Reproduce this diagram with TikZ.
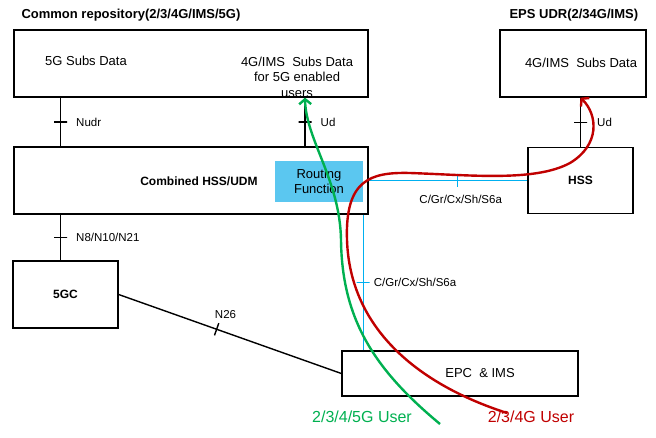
\documentclass[tikz,border=0pt]{standalone}
\usepackage{fontspec}
\setmainfont{Liberation Sans}
\usetikzlibrary{positioning}
\usetikzlibrary{arrows.meta}

\definecolor{verdeU}{RGB}{0,176,80}
\definecolor{rossoU}{RGB}{192,0,0}
\definecolor{cianoL}{RGB}{0,176,240}
\definecolor{cianoF}{RGB}{91,199,240}

\begin{document}
\begin{tikzpicture}[x=1pt,y=-1pt,inner sep=0pt,align=center,
blocco/.style={draw,line width=1.3pt},
testo/.style={font=\fontsize{13}{15.5}\selectfont},
grassetto/.style={font=\fontsize{12}{14}\selectfont\bfseries},
titolo/.style={font=\fontsize{13}{15}\selectfont\bfseries,anchor=south west},
etich/.style={font=\fontsize{11.5}{13}\selectfont},
linea/.style={line width=1.4pt},
lineaC/.style={line width=1.2pt,draw=cianoL},
tacca/.style={draw,sloped,line width=1.4pt,minimum width=0pt,minimum height=13pt},
taccaC/.style={tacca,draw=cianoL,line width=1.2pt},
routing/.style={fill=cianoF,minimum width=88pt,minimum height=41pt},
utente/.style={line width=2.4pt,-{Straight Barb[length=5pt,width=12pt]}},
etichU/.style={font=\fontsize{16}{18}\selectfont}
]
\useasboundingbox (0,0) rectangle (656,438);
%-- blocchi
\node[blocco,minimum width=354pt,minimum height=67pt] (repo) at (191,63.5) {};
\node[blocco,minimum width=146pt,minimum height=67pt] (udr) at (573,63.5) {};
\node[blocco,minimum width=354pt,minimum height=67pt] (combinato) at (191,180.5) {};
\node[blocco,minimum width=105pt,minimum height=66pt] (hss) at (580.5,180.5) {};
\node[blocco,minimum width=105pt,minimum height=67pt] (cinqueGC) at (65.5,294.5) {};
\node[blocco,minimum width=236pt,minimum height=45pt] (epc) at (460,373.5) {};
\node[routing] (rf) at (319,181.5) {};
%-- titoli e testi
\node[titolo,above right=8pt and 8pt of repo.north west] (titRepo) {Common repository(2/3/4G/IMS/5G)};
\node[titolo,above right=8pt and 10pt of udr.north west] (titUdr) {EPS UDR(2/34G/IMS)};
\node[testo] (dati5G) at (86,61) {5G Subs Data};
\node[testo] (dati4G) at (297,77) {4G/IMS\ \ Subs Data\\for 5G enabled\\users};
\node[testo] (datiUdr) at (581,63) {4G/IMS\ \ Subs Data};
\node[grassetto] (txtComb) at (199,181) {Combined HSS/UDM};
\node[testo] (txtRf) at (rf) {Routing\\Function};
\node[grassetto] (txtHss) at (hss) {HSS};
\node[grassetto] (txt5GC) at (cinqueGC) {5GC};
\node[testo] (txtEpc) at (480,373) {EPC\ \ \& IMS};
%-- interfacce
\coordinate (pNudr) at (60.5,0);
\coordinate (pUd) at (305,0);
\coordinate (pUdR) at (580.5,0);
\draw[linea] (repo.south -| pNudr) -- node[tacca]{} node[etich,right=15pt]{Nudr} (combinato.north -| pNudr);
\draw[linea] (repo.south -| pUd) -- node[tacca]{} node[etich,right=15pt]{Ud} (combinato.north -| pUd);
\draw[linea] (udr.south -| pUdR) -- node[tacca]{} node[etich,right=16pt]{Ud} (hss.north -| pUdR);
\draw[linea] (combinato.south -| pNudr) -- node[tacca]{} node[etich,right=15pt]{N8/N10/N21} (cinqueGC.north -| pNudr);
\draw[linea] (cinqueGC.east) -- node[tacca,pos=.44]{} node[etich,pos=.48,above=13pt]{N26} (epc.west);
\draw[lineaC] (combinato.east) -- node[taccaC,pos=.56]{} node[etich,pos=.58,below=14pt]{C/Gr/Cx/Sh/S6a} (hss.west);
\draw[lineaC] (combinato.south -| rf.east) -- node[taccaC]{} node[etich,right=10pt]{C/Gr/Cx/Sh/S6a} (epc.north -| rf.east);
%-- utenti
\coordinate (gInizio) at (440,424);
\coordinate (rInizio) at (507,413);
\draw[utente,verdeU] (gInizio) .. controls (375,370) and (342,320) .. (341,240)
  .. controls (340,180) and (306,140) .. (repo.south -| pUd);
\draw[utente,rossoU] (rInizio) .. controls (420,385) and (350,330) .. (347,240)
  .. controls (345,180) and (370,172) .. (410,173)
  .. controls (470,175) and (535,182) .. (570,163)
  .. controls (600,145) and (598,115) .. (udr.south -| pUdR);
\node[etichU,text=verdeU] (lab5G) at (362,417) {2/3/4/5G User};
\node[etichU,text=rossoU] (lab4G) at (531,417) {2/3/4G User};
\end{tikzpicture}
\end{document}
